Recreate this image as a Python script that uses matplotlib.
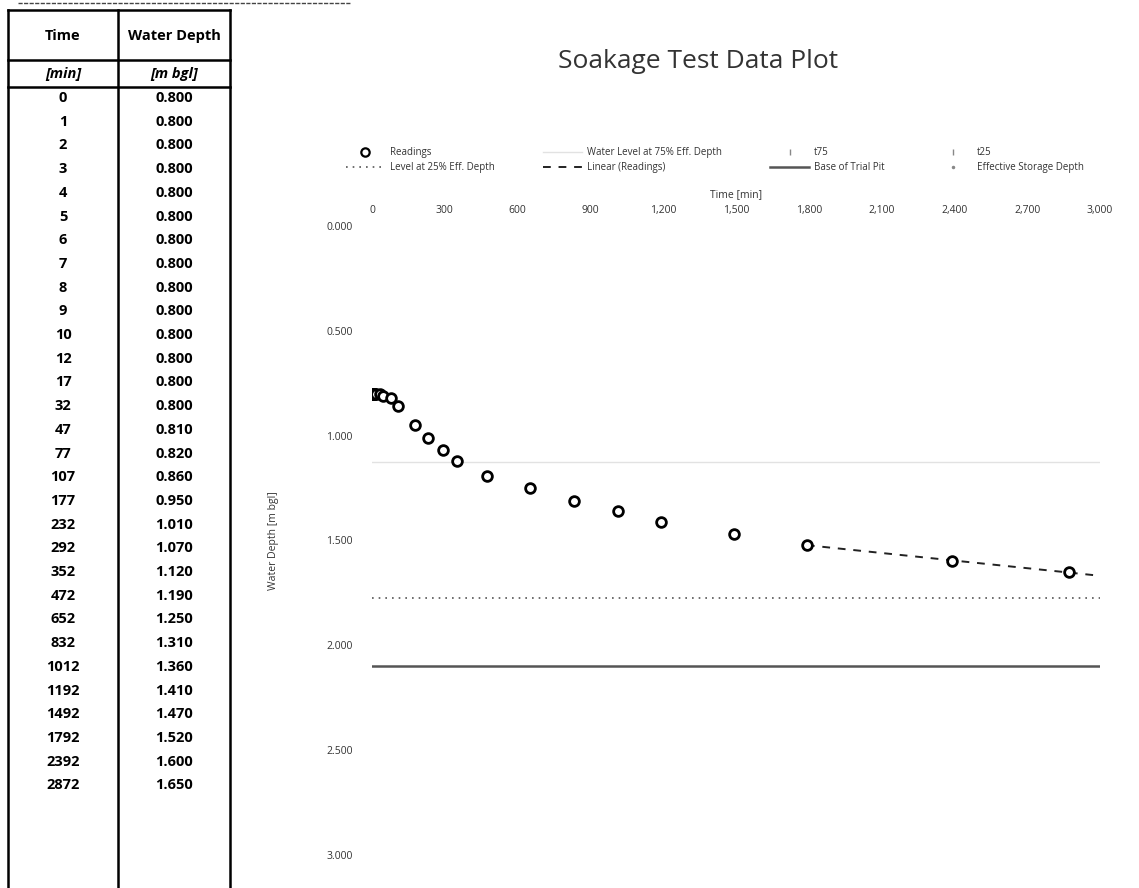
import numpy as np
import matplotlib
matplotlib.use("Agg")
import matplotlib.pyplot as plt
from matplotlib.lines import Line2D
from matplotlib.ticker import FuncFormatter

plt.rcParams['font.family'] = ['Open Sans', 'DejaVu Sans']

# Soakage test readings
time_min = [0, 1, 2, 3, 4, 5, 6, 7, 8, 9, 10, 12, 17, 32, 47, 77, 107, 177,
            232, 292, 352, 472, 652, 832, 1012, 1192, 1492, 1792, 2392, 2872]
depth_m = [0.800, 0.800, 0.800, 0.800, 0.800, 0.800, 0.800, 0.800, 0.800,
           0.800, 0.800, 0.800, 0.800, 0.800, 0.810, 0.820, 0.860, 0.950,
           1.010, 1.070, 1.120, 1.190, 1.250, 1.310, 1.360, 1.410, 1.470,
           1.520, 1.600, 1.650]

# Reference levels [m bgl]
pit_base = 2.100
level_75 = 1.125
level_25 = 1.775
trend_from = 1792
trend_to = 3000

x_ticks = [0, 300, 600, 900, 1200, 1500, 1800, 2100, 2400, 2700, 3000]
y_ticks = [0.0, 0.5, 1.0, 1.5, 2.0, 2.5, 3.0]

W, H = 1139, 888
fig = plt.figure(figsize=(W / 100, H / 100), dpi=100)

# ---- data table on the left ----
tab = fig.add_axes([0, 0, 1, 1])
tab.set_xlim(0, W)
tab.set_ylim(H, 0)
tab.axis('off')
x_left, x_mid, x_right = 8, 118, 230
lw_t = 1.8
for xx in (x_left, x_mid, x_right):
    tab.plot([xx, xx], [10, H], color='black', lw=lw_t)
tab.plot([x_left, x_right], [10, 10], color='black', lw=lw_t)
tab.plot([x_left, x_right], [60, 60], color='black', lw=lw_t)
tab.plot([x_left, x_right], [87, 87], color='black', lw=lw_t)
tab.plot([18, 350], [3, 3], color='#444444', lw=1.0, ls=(0, (3, 1)))
fs_tab = 10.5
tab.text((x_left + x_mid) / 2, 36, 'Time', ha='center', va='center',
         fontsize=fs_tab, fontweight='bold')
tab.text((x_mid + x_right) / 2, 36, 'Water Depth', ha='center', va='center',
         fontsize=fs_tab, fontweight='bold')
tab.text((x_left + x_mid) / 2, 74, '[min]', ha='center', va='center',
         fontsize=fs_tab, fontweight='bold', style='italic')
tab.text((x_mid + x_right) / 2, 74, '[m bgl]', ha='center', va='center',
         fontsize=fs_tab, fontweight='bold', style='italic')
row0, row_h = 98, 23.7
for i, (t, d) in enumerate(zip(time_min, depth_m)):
    yy = row0 + i * row_h
    tab.text((x_left + x_mid) / 2, yy, f'{t}', ha='center', va='center',
             fontsize=fs_tab, fontweight='bold')
    tab.text((x_mid + x_right) / 2, yy, f'{d:.3f}', ha='center',
             va='center', fontsize=fs_tab, fontweight='bold')

# ---- soakage plot ----
ax = fig.add_axes([372 / W, 1 - 855 / H, (1100 - 372) / W, (855 - 226) / H])
ax.set_xlim(x_ticks[0], x_ticks[-1])
ax.set_ylim(y_ticks[-1], y_ticks[0])
for s in ax.spines.values():
    s.set_visible(False)
ax.xaxis.tick_top()
ax.xaxis.set_label_position('top')
ax.set_xticks(x_ticks)
ax.set_yticks(y_ticks)
ax.xaxis.set_major_formatter(FuncFormatter(lambda v, p: f'{v:,.0f}'))
ax.yaxis.set_major_formatter(FuncFormatter(lambda v, p: f'{v:.3f}'))
ax.tick_params(axis='both', length=0, labelsize=7.5, colors='#333333')
ax.tick_params(axis='x', pad=7)
ax.tick_params(axis='y', pad=14)
ax.set_xlabel('Time [min]', fontsize=7.5, color='#333333', labelpad=6)
ax.set_ylabel('Water Depth [m bgl]', fontsize=7.5, color='#333333',
              labelpad=34)

ax.axhline(level_75, color='#e2e2e2', lw=1.0)
ax.axhline(level_25, color='#555555', lw=1.2, ls=(0, (1, 3)))
ax.axhline(pit_base, color='#555555', lw=1.8)

t_arr = np.array(time_min, dtype=float)
d_arr = np.array(depth_m)
sel = t_arr >= trend_from
coef = np.polyfit(t_arr[sel], d_arr[sel], 1)
tt = np.array([trend_from, trend_to], dtype=float)
ax.plot(tt, np.polyval(coef, tt), color='#222222', lw=1.4, ls=(0, (4, 4)))

ax.plot(time_min, depth_m, ls='none', marker='o', ms=7, mfc='white',
        mec='black', mew=2.0, zorder=5)

fig.text(698 / W, 1 - 62 / H, 'Soakage Test Data Plot', ha='center',
         va='center', fontsize=19, color='#333333')

handles = [
    Line2D([], [], ls='none', marker='o', ms=6, mfc='white', mec='black', mew=1.6),
    Line2D([], [], color='#e2e2e2', lw=1.0),
    Line2D([], [], ls='none', marker='|', ms=5, color='#888888'),
    Line2D([], [], ls='none', marker='|', ms=5, color='#888888'),
    Line2D([], [], color='#555555', lw=1.2, ls=(0, (1, 3))),
    Line2D([], [], color='#222222', lw=1.4, ls=(0, (4, 4))),
    Line2D([], [], color='#555555', lw=1.8),
    Line2D([], [], ls='none', marker='.', ms=3, color='#888888'),
]
labels = ['Readings', 'Water Level at 75% Eff. Depth', 't75', 't25',
          'Level at 25% Eff. Depth', 'Linear (Readings)',
          'Base of Trial Pit', 'Effective Storage Depth']
# legend fills column-wise; reorder so entries read row by row
order = [0, 4, 1, 5, 2, 6, 3, 7]
fig.legend([handles[i] for i in order], [labels[i] for i in order],
           loc='center', bbox_to_anchor=(715 / W, 1 - 160 / H), ncol=4,
           frameon=False, fontsize=7, labelcolor='#333333',
           handlelength=4, columnspacing=5, handletextpad=0.5,
           labelspacing=0.4)

fig.savefig('out.png', dpi=100)
